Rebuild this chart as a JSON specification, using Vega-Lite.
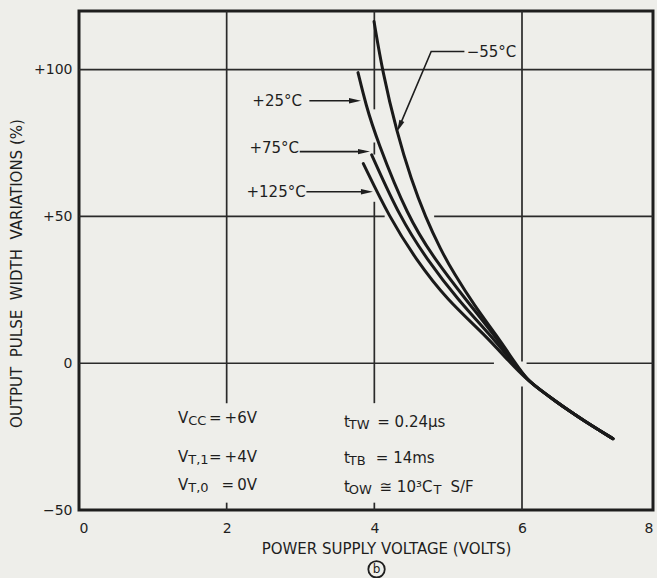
{
  "$schema": "https://vega.github.io/schema/vega-lite/v6.json",
  "width": 574,
  "height": 499,
  "autosize": {"type": "none"},
  "padding": {"left": 79, "top": 11, "right": 4, "bottom": 68},
  "background": "#eeeeea",
  "config": {
    "view": {"stroke": "#1e1e1e", "strokeWidth": 3},
    "font": "DejaVu Sans",
    "text": {"color": "#1e1e1e"}
  },
  "datasets": {
    "curves": [
      {"s": "-55", "x": 3.996, "y": 116.4}, {"s": "-55", "x": 4.111, "y": 99.3}, {"s": "-55", "x": 4.302, "y": 78.9},
      {"s": "-55", "x": 4.500, "y": 62.5}, {"s": "-55", "x": 4.695, "y": 49.6}, {"s": "-55", "x": 4.898, "y": 38.7},
      {"s": "-55", "x": 5.073, "y": 30.8}, {"s": "-55", "x": 5.364, "y": 19.3}, {"s": "-55", "x": 5.649, "y": 9.7},
      {"s": "-55", "x": 5.905, "y": 0.2}, {"s": "-55", "x": 6.076, "y": -5.6}, {"s": "-55", "x": 6.275, "y": -9.0},
      {"s": "-55", "x": 6.504, "y": -12.8}, {"s": "-55", "x": 6.733, "y": -16.4}, {"s": "-55", "x": 6.962, "y": -19.8},
      {"s": "-55", "x": 7.191, "y": -23.0}, {"s": "-55", "x": 7.389, "y": -25.7},
      {"s": "+25", "x": 3.779, "y": 99.0}, {"s": "+25", "x": 3.885, "y": 88.1}, {"s": "+25", "x": 4.028, "y": 76.5},
      {"s": "+25", "x": 4.456, "y": 49.6}, {"s": "+25", "x": 4.822, "y": 35.3}, {"s": "+25", "x": 5.242, "y": 21.6},
      {"s": "+25", "x": 5.621, "y": 9.7}, {"s": "+25", "x": 5.891, "y": 0.2}, {"s": "+25", "x": 6.076, "y": -5.6},
      {"s": "+25", "x": 6.275, "y": -9.0}, {"s": "+25", "x": 6.504, "y": -12.8}, {"s": "+25", "x": 6.733, "y": -16.4},
      {"s": "+25", "x": 6.962, "y": -19.8}, {"s": "+25", "x": 7.191, "y": -23.0}, {"s": "+25", "x": 7.389, "y": -25.7},
      {"s": "+75", "x": 3.964, "y": 71.0}, {"s": "+75", "x": 4.348, "y": 49.6}, {"s": "+75", "x": 4.714, "y": 35.3},
      {"s": "+75", "x": 5.133, "y": 21.6}, {"s": "+75", "x": 5.567, "y": 9.7}, {"s": "+75", "x": 5.878, "y": 0.2},
      {"s": "+75", "x": 6.076, "y": -5.6}, {"s": "+75", "x": 6.275, "y": -9.0}, {"s": "+75", "x": 6.504, "y": -12.8},
      {"s": "+75", "x": 6.733, "y": -16.4}, {"s": "+75", "x": 6.962, "y": -19.8}, {"s": "+75", "x": 7.191, "y": -23.0},
      {"s": "+75", "x": 7.389, "y": -25.7},
      {"s": "+125", "x": 3.851, "y": 68.0}, {"s": "+125", "x": 4.206, "y": 49.6}, {"s": "+125", "x": 4.565, "y": 35.3},
      {"s": "+125", "x": 4.984, "y": 21.6}, {"s": "+125", "x": 5.499, "y": 9.7}, {"s": "+125", "x": 5.837, "y": 0.2},
      {"s": "+125", "x": 6.076, "y": -5.6}, {"s": "+125", "x": 6.275, "y": -9.0}, {"s": "+125", "x": 6.504, "y": -12.8},
      {"s": "+125", "x": 6.733, "y": -16.4}, {"s": "+125", "x": 6.962, "y": -19.8}, {"s": "+125", "x": 7.191, "y": -23.0},
      {"s": "+125", "x": 7.389, "y": -25.7}
    ],
    "grid": [
      {"x": 2, "x2": 2, "y": -13.6, "y2": 120}, {"x": 2, "x2": 2, "y": -50, "y2": -47.5},
      {"x": 4, "x2": 4, "y": 86.5, "y2": 120}, {"x": 4, "x2": 4, "y": 71.1, "y2": 75.2},
      {"x": 4, "x2": 4, "y": -13.6, "y2": 55.0}, {"x": 4, "x2": 4, "y": -50, "y2": -47.5},
      {"x": 6, "x2": 6, "y": 0.6, "y2": 120}, {"x": 6, "x2": 6, "y": -50, "y2": -7.9},
      {"x": 0, "x2": 8, "y": 100, "y2": 100},
      {"x": 0, "x2": 4.14, "y": 50, "y2": 50}, {"x": 4.81, "x2": 8, "y": 50, "y2": 50},
      {"x": 0, "x2": 5.62, "y": 0, "y2": 0}, {"x": 6.07, "x2": 8, "y": 0, "y2": 0}
    ],
    "leaders": [
      {"id": "+25", "o": 1, "x": 3.12, "y": 89.4}, {"id": "+25", "o": 2, "x": 3.74, "y": 89.4},
      {"id": "+75", "o": 1, "x": 2.99, "y": 72.1}, {"id": "+75", "o": 2, "x": 3.86, "y": 72.1},
      {"id": "+125", "o": 1, "x": 3.08, "y": 58.4}, {"id": "+125", "o": 2, "x": 3.90, "y": 58.4},
      {"id": "-55", "o": 1, "x": 5.22, "y": 106.2}, {"id": "-55", "o": 2, "x": 4.77, "y": 106.2},
      {"id": "-55", "o": 3, "x": 4.34, "y": 80.7}
    ],
    "heads_right": [
      {"id": "+25", "x": 3.738, "y": 89.4},
      {"id": "+75", "x": 3.86, "y": 72.1},
      {"id": "+125", "x": 3.90, "y": 58.4}
    ],
    "heads_diag": [
      {"id": "-55", "x": 4.34, "y": 80.7}
    ],
    "labels_r": [
      {"x": 3.02, "y": 89.4, "t": "+25°C"},
      {"x": 2.98, "y": 73.2, "t": "+75°C"},
      {"x": 3.07, "y": 58.4, "t": "+125°C"}
    ],
    "labels_l": [
      {"x": 5.25, "y": 106.0, "t": "−55°C"}
    ],
    "notes_main": [
      {"x": 1.34, "y": -18.6, "t": "V"},
      {"x": 1.34, "y": -31.9, "t": "V"},
      {"x": 1.34, "y": -41.4, "t": "V"},
      {"x": 3.59, "y": -19.9, "t": "t"}, {"x": 4.04, "y": -19.9, "t": "= 0.24μs"},
      {"x": 3.59, "y": -32.2, "t": "t"}, {"x": 4.02, "y": -32.2, "t": "= 14ms"},
      {"x": 3.59, "y": -42.1, "t": "t"}, {"x": 4.07, "y": -42.1, "t": "≅ 10³C"}, {"x": 5.03, "y": -42.1, "t": "S/F"}
    ],
    "notes_right": [
      {"x": 2.41, "y": -18.6, "t": "=\u2009+6V"},
      {"x": 2.41, "y": -31.9, "t": "=\u2009+4V"},
      {"x": 2.41, "y": -41.4, "t": "=\u20090V"}
    ],
    "notes_sub": [
      {"x": 1.48, "y": -18.6, "t": "CC"}, {"x": 1.48, "y": -31.9, "t": "T,1"}, {"x": 1.48, "y": -41.4, "t": "T,0"},
      {"x": 3.655, "y": -19.9, "t": "TW"}, {"x": 3.655, "y": -32.2, "t": "TB"}, {"x": 3.655, "y": -42.1, "t": "OW"},
      {"x": 4.80, "y": -42.1, "t": "T"}
    ],
    "panel": [
      {"x": 4.03, "y": -70.2, "t": "b"}
    ]
  },
  "encoding": {
    "x": {
      "field": "x",
      "type": "quantitative",
      "scale": {"domain": [0, 6, 8], "range": [0, 443, 574], "nice": false, "zero": false},
      "axis": {
        "values": [0, 2, 4, 6, 8],
        "grid": false,
        "ticks": false,
        "domain": false,
        "labelPadding": 11,
        "labelFontSize": 14,
        "labelColor": "#1e1e1e",
        "labelFont": "DejaVu Sans",
        "title": "POWER SUPPLY VOLTAGE (VOLTS)",
        "titleFont": "DejaVu Sans",
        "titleFontSize": 15,
        "titleFontWeight": "normal",
        "titleColor": "#1e1e1e",
        "titlePadding": 6,
        "titleX": 307
      }
    },
    "y": {
      "field": "y",
      "type": "quantitative",
      "scale": {"domain": [-50, 120], "nice": false, "zero": false},
      "axis": {
        "values": [-50, 0, 50, 100],
        "labelExpr": "datum.value > 0 ? '+' + datum.label : (datum.value == 0 ? '0\u00a0\u00a0' : datum.label)",
        "grid": false,
        "ticks": false,
        "domain": false,
        "labelPadding": 7,
        "labelFontSize": 14,
        "labelColor": "#1e1e1e",
        "labelFont": "DejaVu Sans",
        "title": "OUTPUT\u00a0\u00a0PULSE\u00a0\u00a0WIDTH\u00a0\u00a0VARIATIONS (%)",
        "titleFont": "DejaVu Sans",
        "titleFontSize": 15,
        "titleFontWeight": "normal",
        "titleColor": "#1e1e1e",
        "titlePadding": 9,
        "titleY": 262
      }
    }
  },
  "layer": [
    {
      "data": {"name": "grid"},
      "mark": {"type": "rule", "stroke": "#2a2a2a", "strokeWidth": 1.7},
      "encoding": {"x2": {"field": "x2"}, "y2": {"field": "y2"}}
    },
    {
      "data": {"name": "curves"},
      "mark": {"type": "line", "stroke": "#1a1a1a", "strokeWidth": 3, "interpolate": "basis", "strokeCap": "round"},
      "encoding": {"detail": {"field": "s", "type": "nominal"}}
    },
    {
      "data": {"name": "leaders"},
      "mark": {"type": "line", "stroke": "#1e1e1e", "strokeWidth": 1.6},
      "encoding": {"detail": {"field": "id", "type": "nominal"}, "order": {"field": "o", "type": "quantitative"}}
    },
    {
      "data": {"name": "heads_right"},
      "mark": {"type": "point", "shape": "M-1,-0.45L1,0L-1,0.45Z", "filled": true, "fill": "#1e1e1e", "strokeWidth": 0, "size": 144, "opacity": 1}
    },
    {
      "data": {"name": "heads_diag"},
      "mark": {"type": "point", "shape": "M-1,-0.45L1,0L-1,0.45Z", "filled": true, "fill": "#1e1e1e", "strokeWidth": 0, "size": 144, "angle": 113.6, "opacity": 1}
    },
    {
      "data": {"name": "labels_r"},
      "mark": {"type": "text", "align": "right", "baseline": "middle", "fontSize": 15, "font": "DejaVu Sans"},
      "encoding": {"text": {"field": "t"}}
    },
    {
      "data": {"name": "labels_l"},
      "mark": {"type": "text", "align": "left", "baseline": "middle", "fontSize": 15, "font": "DejaVu Sans"},
      "encoding": {"text": {"field": "t"}}
    },
    {
      "data": {"name": "notes_main"},
      "mark": {"type": "text", "align": "left", "baseline": "middle", "fontSize": 15, "font": "DejaVu Sans"},
      "encoding": {"text": {"field": "t"}}
    },
    {
      "data": {"name": "notes_right"},
      "mark": {"type": "text", "align": "right", "baseline": "middle", "fontSize": 15, "font": "DejaVu Sans"},
      "encoding": {"text": {"field": "t"}}
    },
    {
      "data": {"name": "notes_sub"},
      "mark": {"type": "text", "align": "left", "baseline": "middle", "fontSize": 13, "dy": 3, "font": "DejaVu Sans"},
      "encoding": {"text": {"field": "t"}}
    },
    {
      "data": {"name": "panel"},
      "mark": {"type": "point", "shape": "circle", "filled": false, "stroke": "#1e1e1e", "strokeWidth": 1.8, "size": 270, "opacity": 1}
    },
    {
      "data": {"name": "panel"},
      "mark": {"type": "text", "align": "center", "baseline": "middle", "fontSize": 12, "font": "DejaVu Sans"},
      "encoding": {"text": {"field": "t"}}
    }
  ]
}
